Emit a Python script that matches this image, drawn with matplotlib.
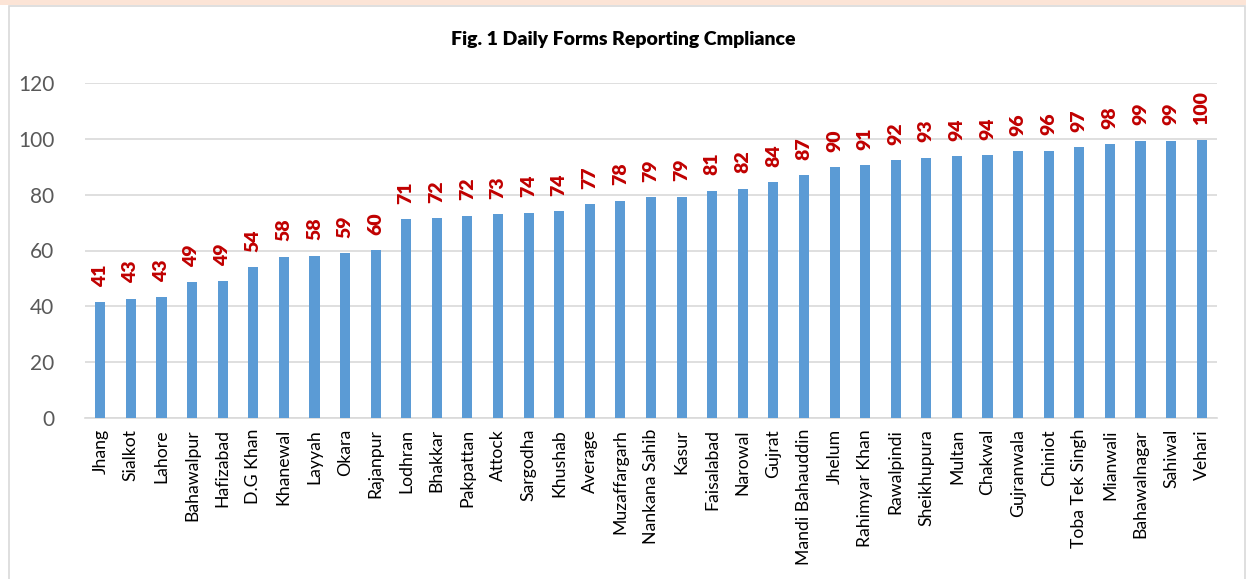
import matplotlib.pyplot as plt
from matplotlib.patches import Rectangle

districts = ["Jhang", "Sialkot", "Lahore", "Bahawalpur", "Hafizabad", "D.G Khan", "Khanewal",
             "Layyah", "Okara", "Rajanpur", "Lodhran", "Bhakkar", "Pakpattan", "Attock",
             "Sargodha", "Khushab", "Average", "Muzaffargarh", "Nankana Sahib", "Kasur",
             "Faisalabad", "Narowal", "Gujrat", "Mandi Bahauddin", "Jhelum", "Rahimyar Khan",
             "Rawalpindi", "Sheikhupura", "Multan", "Chakwal", "Gujranwala", "Chiniot",
             "Toba Tek Singh", "Mianwali", "Bahawalnagar", "Sahiwal", "Vehari"]
compliance = [41.4, 42.8, 43.3, 48.6, 49.0, 54.1, 57.8, 58.2, 59.0, 60.2, 71.3, 71.6,
              72.5, 73.1, 73.6, 74.2, 76.7, 77.9, 79.1, 79.3, 81.4, 82.2, 84.5, 86.9,
              89.8, 90.6, 92.4, 93.2, 93.9, 94.2, 95.6, 95.7, 96.9, 98.2, 99.3, 99.4, 99.6]
yticks = [0, 20, 40, 60, 80, 100, 120]

plt.rcParams['font.family'] = ['Lato', 'DejaVu Sans']

fig = plt.figure(figsize=(12.46, 5.79), dpi=100)
# pink strip on top and the chart frame
fig.patches.append(Rectangle((0, 1 - 5/579), 1, 5/579, transform=fig.transFigure,
                             facecolor='#FCE4D6', edgecolor='none'))
fig.patches.append(Rectangle((9/1246, -0.01), 1236/1246, 1 - 6/579 + 0.01, transform=fig.transFigure,
                             facecolor='none', edgecolor='#D9D9D9', linewidth=1.2))

ax = fig.add_axes([85/1246, 1 - 418/579, (1217 - 85)/1246, (418 - 83)/579])
x = range(len(districts))
ax.bar(x, compliance, width=0.33, color='#5B9BD5', zorder=3)
for i, v in enumerate(compliance):
    ax.text(i, v + 5.5, "%.0f" % v, rotation=90, ha='center', va='bottom',
            color='#C00000', fontsize=14, fontweight='heavy')

ax.set_ylim(0, 120)
ax.set_xlim(-0.5, len(districts) - 0.5)
ax.set_yticks(yticks)
ax.set_xticks(list(x))
ax.set_xticklabels(districts, rotation=90, fontsize=12.7, color='#000000')
ax.tick_params(axis='y', labelsize=15, labelcolor='#595959', length=0, pad=22)
ax.tick_params(axis='x', length=0, pad=8)
ax.grid(axis='y', color='#D9D9D9', linewidth=1.2, zorder=0)
for s in ['left', 'right', 'top']:
    ax.spines[s].set_visible(False)
ax.spines['bottom'].set_color('#D9D9D9')
ax.spines['bottom'].set_linewidth(1.2)

fig.text(0.5, 1 - 40/579, "Fig. 1 Daily Forms Reporting Cmpliance", ha='center', va='center',
         fontsize=14, fontweight='heavy')

fig.savefig("out.png", dpi=100)
